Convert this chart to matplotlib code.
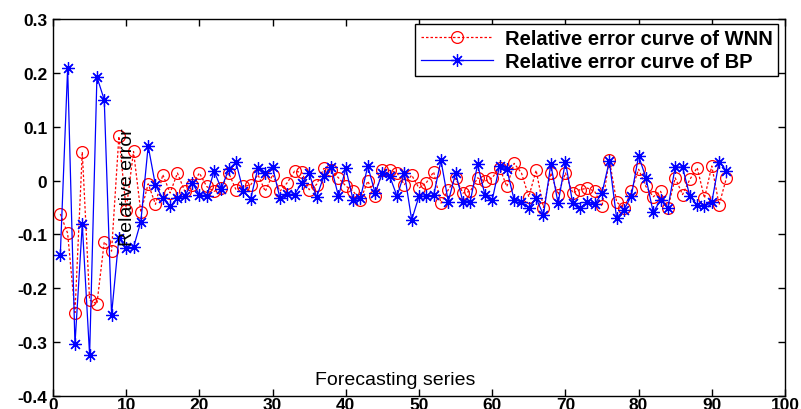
import matplotlib
matplotlib.use("Agg")
import matplotlib.pyplot as plt
import numpy as np

x = list(range(1, 93))

wnn = [-0.062, -0.098, -0.245, 0.053, -0.222, -0.229, -0.114, -0.131, 0.082, -0.054,
       0.054, -0.059, -0.006, -0.044, 0.011, -0.023, 0.014, -0.020, -0.008, 0.014,
       -0.011, -0.020, -0.014, 0.014, -0.017, -0.011, -0.008, 0.011, -0.020, 0.011,
       -0.020, -0.004, 0.0175, 0.015, -0.017, -0.0075, 0.0225, 0.020, 0.005, -0.010,
       -0.020, -0.036, -0.001, -0.029, 0.020, 0.019, 0.014, -0.0075, 0.010, -0.014,
       -0.004, 0.016, -0.042, -0.017, 0.004, -0.023, -0.020, 0.005, -0.001, 0.005,
       0.024, -0.011, 0.032, 0.014, -0.030, 0.019, -0.050, 0.014, -0.026, 0.014,
       -0.023, -0.017, -0.014, -0.020, -0.048, 0.039, -0.040, -0.051, -0.020, 0.021,
       -0.011, -0.030, -0.020, -0.051, 0.005, -0.026, 0.002, 0.024, -0.0325, 0.027,
       -0.045, 0.005]

bp = [-0.1375, 0.209, -0.304, -0.081, -0.324, 0.1925, 0.150, -0.249, -0.106, -0.126,
      -0.124, -0.076, 0.064, -0.009, -0.033, -0.048, -0.033, -0.029, -0.004, -0.026,
      -0.029, 0.0175, -0.015, 0.021, 0.034, -0.020, -0.034, 0.024, 0.014, 0.025,
      -0.0325, -0.025, -0.026, -0.004, 0.014, -0.031, 0.008, 0.025, -0.029, 0.0225,
      -0.036, -0.0325, 0.027, -0.023, 0.014, 0.008, -0.029, 0.014, -0.073, -0.029,
      -0.029, -0.0275, 0.0375, -0.039, 0.014, -0.039, -0.039, 0.030, -0.026, -0.036,
      0.027, 0.021, -0.036, -0.039, -0.051, -0.0325, -0.064, 0.030, -0.042, 0.035,
      -0.042, -0.051, -0.040, -0.044, -0.023, 0.036, -0.070, -0.054, -0.029, 0.046,
      0.005, -0.059, -0.036, -0.051, 0.025, 0.025, -0.029, -0.045, -0.048, -0.040,
      0.035, 0.018]

xticks = list(range(0, 101, 10))
yticks = [-0.4, -0.3, -0.2, -0.1, 0, 0.1, 0.2, 0.3]
ytick_labels = ["-0.4", "-0.3", "-0.2", "-0.1", "0", "0.1", "0.2", "0.3"]

plt.rcParams['font.family'] = ['Liberation Sans', 'DejaVu Sans']

fig = plt.figure(figsize=(8.01, 4.10), dpi=100)
ax = fig.add_axes([53/801, 1 - 397/410, (785 - 53)/801, (397 - 20)/410])

ax.plot(x, wnn, color='#ff0000', linestyle=(0, (2, 1.6)), linewidth=0.9,
        marker='o', markersize=8.5, markerfacecolor='none', markeredgecolor='#ff0000',
        markeredgewidth=0.9, label='Relative error curve of WNN')
ax.plot(x, bp, color='#0000ff', linestyle='-', linewidth=0.9,
        marker=(8, 2, 0), markersize=9, markeredgecolor='#0000ff', markeredgewidth=0.9,
        label='Relative error curve of BP')

ax.set_xlim(0, 100)
ax.set_ylim(-0.4, 0.3)
ax.set_xticks(xticks)
ax.set_yticks(yticks)
ax.set_yticklabels(ytick_labels)
ax.tick_params(direction='in', top=True, right=True, length=5, width=1,
               labelsize=12.5, pad=4)
ax.tick_params(axis='x', pad=1)
for lab in ax.get_xticklabels() + ax.get_yticklabels():
    lab.set_fontweight('bold')
for s in ax.spines.values():
    s.set_linewidth(1.0)
    s.set_color('black')

ax.text((127 - 53)/732, (397 - 187)/377, 'Relative error', rotation=90,
        ha='center', va='center', fontsize=14, transform=ax.transAxes)
ax.text((395 - 53)/732, (397 - 381)/377, 'Forecasting series',
        ha='center', va='center', fontsize=14, transform=ax.transAxes)

leg = ax.legend(loc='upper right', bbox_to_anchor=((778 - 53)/732, (397 - 25)/377),
                fancybox=False, framealpha=1, edgecolor='black', borderaxespad=0,
                handlelength=3.6, borderpad=0.25, labelspacing=0.2, handletextpad=0.6,
                prop={'weight': 'bold', 'size': 14.5})
leg.get_frame().set_linewidth(1.0)

fig.savefig('out.png', dpi=100)
